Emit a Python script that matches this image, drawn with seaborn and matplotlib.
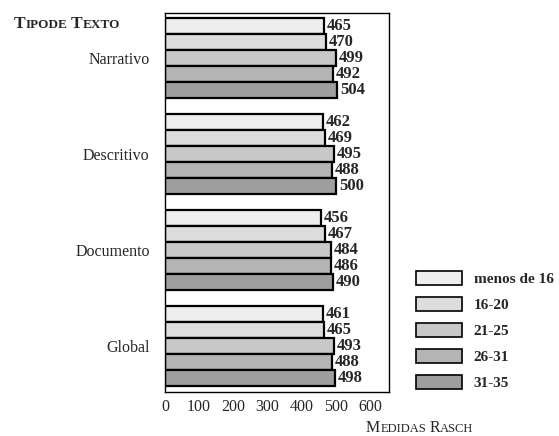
import numpy as np
import pandas as pd
import matplotlib
matplotlib.use("Agg")
import matplotlib.pyplot as plt
import seaborn as sns
from matplotlib.patches import Patch

# Daten
tipos = ["Narrativo", "Descritivo", "Documento", "Global"]
idades = ["menos de 16", "16-20", "21-25", "26-31", "31-35"]
narrativo = [465, 470, 499, 492, 504]
descritivo = [462, 469, 495, 488, 500]
documento = [456, 467, 484, 486, 490]
global_ = [461, 465, 493, 488, 498]
cores = ["#eeeeee", "#dcdcdc", "#c8c8c8", "#b4b4b4", "#9e9e9e"]

rows = []
for tipo, vals in zip(tipos, [narrativo, descritivo, documento, global_]):
    for idade, v in zip(idades, vals):
        rows.append({"tipo": tipo, "idade": idade, "valor": v})
df = pd.DataFrame(rows)

sns.set_style("white")
plt.rcParams["font.family"] = ["Liberation Serif", "DejaVu Serif"]

fig = plt.figure(figsize=(5.59, 4.36), dpi=100)
ax = fig.add_axes([0.295, 0.101, 0.401, 0.869])

sns.barplot(data=df, y="tipo", x="valor", hue="idade", order=tipos,
            hue_order=idades, palette=cores, orient="h", width=0.83,
            edgecolor="black", linewidth=1.6, ax=ax, legend=False)

for c in ax.containers:
    ax.bar_label(c, padding=2, fontsize=12, fontweight="bold")

ax.set_xlim(0, 655)
ax.set_ylim(3.48, -0.47)
ax.set_xticks([0, 100, 200, 300, 400, 500, 600])
ax.tick_params(axis="x", length=0, labelsize=11.5, pad=5)
ax.tick_params(axis="y", length=0, labelsize=11.5, pad=11)
ax.set_xlabel("")
ax.set_ylabel("")
for s in ax.spines.values():
    s.set_color("black")
    s.set_linewidth(1.0)

# Legende
handles = [Patch(facecolor=c, edgecolor="black", linewidth=1.2) for c in cores]
leg = fig.legend(handles, idades, loc="upper left", bbox_to_anchor=(0.72, 0.41),
                 frameon=False, handlelength=3.0, handleheight=1.0,
                 labelspacing=0.72, handletextpad=0.75,
                 prop={"size": 11, "weight": "bold"})

# Kapitälchen-Texte
def kapitaelchen(x, y, teile, weight="normal"):
    fig.canvas.draw()
    r = fig.canvas.get_renderer()
    for txt, size in teile:
        t = fig.text(x, y, txt, fontsize=size, fontweight=weight,
                     transform=None, va="baseline")
        bb = t.get_window_extent(renderer=r)
        x += bb.width

kapitaelchen(14, 436 - 28, [("T", 12.5), ("IPODE", 9.5), (" ", 9.5), ("T", 12.5), ("EXTO", 9.5)],
             weight="bold")
kapitaelchen(366, 436 - 432, [("M", 11.5), ("EDIDAS", 9), (" ", 9), ("R", 11.5), ("ASCH", 9)])

fig.savefig("out.png", dpi=100)
